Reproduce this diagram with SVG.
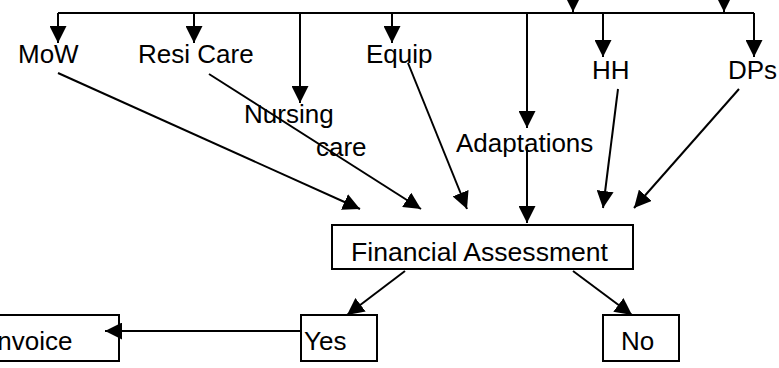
<svg xmlns="http://www.w3.org/2000/svg" width="779" height="368" viewBox="0 0 779 368">
<style>
text{font-family:"Liberation Sans",Arial,sans-serif;font-size:26px;fill:#000}
.c{stroke:#000;stroke-width:2;fill:none}
.b{stroke:#000;stroke-width:2;fill:#fff}
</style>
<defs>
<marker id="a" markerUnits="userSpaceOnUse" markerWidth="17" markerHeight="17" refX="17" refY="8.5" orient="auto">
<path d="M0,0 L17,8.5 L0,17 z" fill="#000"/>
</marker>
</defs>
<g id="connectors">
<path class="c" d="M58,13 H754"/>
<path class="c" d="M573,-20 V12" marker-end="url(#a)"/>
<path class="c" d="M724,-20 V12" marker-end="url(#a)"/>
<path class="c" d="M58,13 V43" marker-end="url(#a)"/>
<path class="c" d="M194,13 V43" marker-end="url(#a)"/>
<path class="c" d="M300,13 V103" marker-end="url(#a)"/>
<path class="c" d="M392,13 V43" marker-end="url(#a)"/>
<path class="c" d="M527,13 V128" marker-end="url(#a)"/>
<path class="c" d="M603,13 V57" marker-end="url(#a)"/>
<path class="c" d="M754,13 V57" marker-end="url(#a)"/>
<path class="c" d="M58,73 L360,209" marker-end="url(#a)"/>
<path class="c" d="M209,74 L421,209" marker-end="url(#a)"/>
<path class="c" d="M408,63 L467,209" marker-end="url(#a)"/>
<path class="c" d="M527,147 V223" marker-end="url(#a)"/>
<path class="c" d="M618,89 L603,208" marker-end="url(#a)"/>
<path class="c" d="M739,89 L634,208" marker-end="url(#a)"/>
</g>
<g id="n-fa"><rect class="b" x="332" y="225" width="301" height="44"/><text x="351" y="261" textLength="257" lengthAdjust="spacingAndGlyphs">Financial Assessment</text></g>
<g id="n-yes"><rect class="b" x="301" y="315" width="76" height="46"/><text x="304" y="350">Yes</text></g>
<g id="n-invoice"><rect class="b" x="-30" y="315" width="149" height="46"/><text x="-10" y="350">Invoice</text></g>
<g id="n-no"><rect class="b" x="603" y="315" width="76" height="46"/><text x="621" y="350">No</text></g>
<g id="connectors2">
<path class="c" d="M405,271 L347,315" marker-end="url(#a)"/>
<path class="c" d="M573,271 L632,315" marker-end="url(#a)"/>
<path class="c" d="M301,331 H105" marker-end="url(#a)"/>
</g>
<g id="n-mow"><text x="18" y="63">MoW</text></g>
<g id="n-resi"><text x="138" y="63">Resi Care</text></g>
<g id="n-nursing"><text x="244" y="123">Nursing</text><text x="316" y="156">care</text></g>
<g id="n-equip"><text x="366" y="63">Equip</text></g>
<g id="n-adapt"><text x="456" y="152">Adaptations</text></g>
<g id="n-hh"><text x="592" y="79">HH</text></g>
<g id="n-dps"><text x="728" y="79">DPs</text></g>
</svg>
